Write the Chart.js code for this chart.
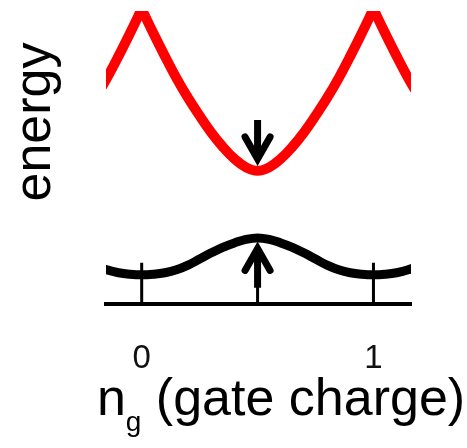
<!DOCTYPE html>
<html><head><meta charset="utf-8">
<script src="https://cdn.jsdelivr.net/npm/chart.js@4/dist/chart.umd.min.js"></script>
<style>html,body{margin:0;padding:0;background:#fff}#wrap{width:467px;height:448px}</style>
</head><body><div id="wrap"><canvas id="c" width="467" height="448"></canvas></div>
<script>
// gate charge samples
const ngValues = [-0.2,-0.15,-0.1,-0.05,0,0.05,0.1,0.15,0.2,0.25,0.3,0.35,0.4,0.45,0.5,0.55,0.6,0.65,0.7,0.75,0.8,0.85,0.9,0.95,1,1.05,1.1,1.15,1.2];
// excited band (red) energy
const upperBand = [7.03,7.71,8.46,9.25,10.07,9.25,8.46,7.71,7.03,6.42,5.85,5.36,4.95,4.66,4.54,4.66,4.95,5.36,5.85,6.42,7.03,7.71,8.46,9.25,10.07,9.25,8.46,7.71,7.03];
// ground band (black) energy
const lowerBand = [1.32,1.16,1.06,1.01,0.99,1.01,1.06,1.16,1.32,1.53,1.74,1.93,2.08,2.20,2.25,2.20,2.08,1.93,1.74,1.53,1.32,1.16,1.06,1.01,0.99,1.01,1.06,1.16,1.32];
// x tick labels
const tickValues = [0, 1];
const tickLabels = ['0', '1'];
// tick marks drawn up from the axis
const tickMarks = [0, 0.5, 1];
const tickTop = [1.40];
// arrows at ng = 0.5 : [tail, tip, wing] energies, wing half-width in ng
const arrowX = [0.5];
const downArrow = [6.28, 4.95, 5.70];
const upArrow = [0.546, 1.89, 1.14];
const arrowWing = [0.054];

const pts = (xs, ys) => xs.map((x, i) => ({x: x, y: ys[i]}));
const i0 = ngValues.indexOf(0), i1 = ngValues.indexOf(1);
const ax = arrowX[0], aw = arrowWing[0];

const lineBase = {pointRadius: 0, fill: false, clip: 0, showLine: true};
const datasets = [
  Object.assign({}, lineBase, {data: [{x: ax, y: downArrow[0]}, {x: ax, y: downArrow[1]}], borderColor: '#000', borderWidth: 7, borderCapStyle: 'butt', tension: 0}),
  Object.assign({}, lineBase, {data: [{x: ax - aw, y: downArrow[2]}, {x: ax, y: downArrow[1]}, {x: ax + aw, y: downArrow[2]}], borderColor: '#000', borderWidth: 7, borderCapStyle: 'round', borderJoinStyle: 'miter', tension: 0}),
  Object.assign({}, lineBase, {data: [{x: ax, y: upArrow[0]}, {x: ax, y: upArrow[1]}], borderColor: '#000', borderWidth: 7, borderCapStyle: 'butt', tension: 0}),
  Object.assign({}, lineBase, {data: [{x: ax - aw, y: upArrow[2]}, {x: ax, y: upArrow[1]}, {x: ax + aw, y: upArrow[2]}], borderColor: '#000', borderWidth: 7, borderCapStyle: 'round', borderJoinStyle: 'miter', tension: 0}),
  Object.assign({}, lineBase, {data: pts(ngValues, lowerBand), borderColor: '#000', borderWidth: 9, tension: 0.4}),
  Object.assign({}, lineBase, {data: pts(ngValues.slice(0, i0 + 1), upperBand.slice(0, i0 + 1)), borderColor: '#ff0000', borderWidth: 10, tension: 0.4}),
  Object.assign({}, lineBase, {data: pts(ngValues.slice(i0, i1 + 1), upperBand.slice(i0, i1 + 1)), borderColor: '#ff0000', borderWidth: 10, tension: 0.4}),
  Object.assign({}, lineBase, {data: pts(ngValues.slice(i1), upperBand.slice(i1)), borderColor: '#ff0000', borderWidth: 10, tension: 0.4})
].concat(tickMarks.map(t => Object.assign({}, lineBase, {data: [{x: t, y: 0}, {x: t, y: tickTop[0]}], borderColor: '#000', borderWidth: 3, tension: 0})));

const FONT = '"Liberation Sans", Arial, Helvetica, sans-serif';
const titlePlugin = {
  id: 'titles',
  afterDraw(chart) {
    const ctx = chart.ctx;
    ctx.save();
    ctx.fillStyle = '#000';
    ctx.font = '52px ' + FONT;
    ctx.textAlign = 'center';
    ctx.textBaseline = 'alphabetic';
    ctx.translate(50, 122);
    ctx.rotate(-Math.PI / 2);
    ctx.fillText('energy', 0, 0);
    ctx.restore();

    ctx.save();
    ctx.fillStyle = '#000';
    ctx.textAlign = 'left';
    ctx.textBaseline = 'alphabetic';
    const big = '52px ' + FONT, small = '28px ' + FONT;
    ctx.font = big;
    const wn = ctx.measureText('n').width;
    const wr = ctx.measureText(' (gate charge)').width;
    ctx.font = small;
    const wg = ctx.measureText('g').width;
    let x = 281 - (wn + wg + wr) / 2;
    const base = 415;
    ctx.font = big; ctx.fillText('n', x, base); x += wn;
    ctx.font = small; ctx.fillText('g', x, base + 16); x += wg;
    ctx.font = big; ctx.fillText(' (gate charge)', x, base);
    ctx.restore();
  }
};

new Chart(document.getElementById('c'), {
  type: 'scatter',
  data: {datasets: datasets},
  plugins: [titlePlugin],
  options: {
    responsive: false,
    animation: false,
    devicePixelRatio: 1,
    layout: {padding: {left: 106, right: 56, top: 11, bottom: 34.6}},
    plugins: {legend: {display: false}, tooltip: {enabled: false}},
    scales: {
      x: {
        type: 'linear', min: -0.154, max: 1.162,
        grid: {display: false, drawTicks: false},
        border: {display: true, color: '#000', width: 4},
        afterBuildTicks: s => { s.ticks = tickValues.map(v => ({value: v})); },
        ticks: {
          padding: 35,
          color: '#111',
          font: {family: FONT, size: 33},
          callback: v => tickLabels[tickValues.indexOf(v)]
        }
      },
      y: {type: 'linear', min: 0, max: 10, display: false}
    }
  }
});
</script>
</body></html>
